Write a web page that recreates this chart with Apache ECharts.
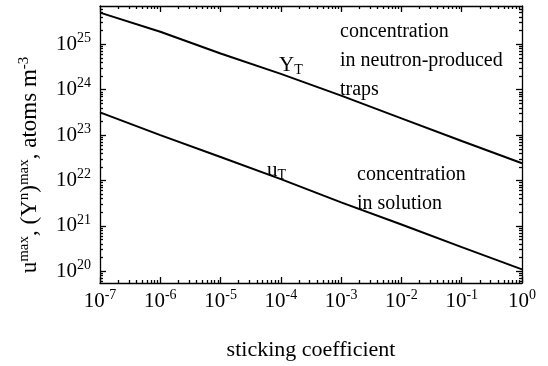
<!DOCTYPE html>
<html>
<head><meta charset="utf-8"></head>
<script type="text/javascript" src="https://cdn.jsdelivr.net/npm/echarts@6/dist/echarts.min.js"></script>
<body style="margin:0;background:#fff">
<div id="main" style="width:548px;height:366px"></div>
<script type="text/javascript">
// sticking coefficient (x) and the two maximum concentrations
var stick = [1e-7, 1e-6, 1e-5, 1e-4, 1e-3, 1e-2, 1e-1, 1]
var trapY = [5.0e25, 1.9e25, 6.3e24, 2.24e24, 7.4e23, 2.34e23, 7.4e22, 2.4e22]   // Y_T
var solU = [3.16e23, 1.0e23, 3.3e22, 1.07e22, 3.3e21, 1.07e21, 3.4e20, 1.1e20]   // u_T

var xMajor = [1e-7, 1e-6, 1e-5, 1e-4, 1e-3, 1e-2, 1e-1, 1]
var yMajor = [1e20, 1e21, 1e22, 1e23, 1e24, 1e25]
var xMin = 1e-7, xMax = 1
var yMin = 5.5e19, yMax = 7.0e25

// minor ticks at 2..9 of each decade
function minors(p0, p1) {
    var out = []
    for (var p = p0; p <= p1; p++) {
        for (var k = 2; k <= 9; k++) out.push(k * Math.pow(10, p))
    }
    return out
}
var xMinor = minors(-7, -1)
var yMinor = minors(19, 25).filter(function (v) { return v >= yMin && v <= yMax })

var FONT = 'Liberation Serif'
var rich = {
    b: {fontFamily: FONT, fontSize: 21, color: '#000'},
    s: {fontFamily: FONT, fontSize: 14, color: '#000', padding: [0, 0, 12, 0]}
}
function powLabel(v) {
    return '{b|10}{s|' + Math.round(Math.log10(v)) + '}'
}
var line = {color: '#000', width: 1.3}

function logAxis(pos, isX, major, withLabel, ticks, len) {
    var ax = {
        type: 'log',
        position: pos,
        min: isX ? xMin : yMin,
        max: isX ? xMax : yMax,
        axisLine: {show: major, lineStyle: line},
        axisTick: {show: true, inside: true, length: len, customValues: ticks, lineStyle: line},
        axisLabel: {show: withLabel},
        splitLine: {show: false},
        minorTick: {show: false}
    }
    if (withLabel) {
        ax.axisLabel = {show: true, customValues: ticks, formatter: powLabel, rich: rich,
            margin: isX ? 5 : 9}
    }
    return ax
}

var xAxes = [
    logAxis('bottom', true, true, true, xMajor, 6),
    logAxis('top', true, true, false, xMajor, 6),
    logAxis('top', true, false, false, xMinor, 3),
    logAxis('bottom', true, false, false, xMinor, 3)
]
xAxes[0].name = 'sticking coefficient'
xAxes[0].nameLocation = 'middle'
xAxes[0].nameGap = 56
xAxes[0].nameTextStyle = {fontFamily: FONT, fontSize: 22, color: '#000'}

var yAxes = [
    logAxis('left', false, true, true, yMajor, 6),
    logAxis('right', false, true, false, yMajor, 6),
    logAxis('right', false, false, false, yMinor, 3),
    logAxis('left', false, false, false, yMinor, 3)
]

var txt = {fontFamily: FONT, fontSize: 20, fill: '#000'}
function note(x, y, str) {
    return {type: 'text', left: x, top: y, style: Object.assign({text: str}, txt)}
}
var subRich = {
    m: {fontFamily: FONT, fontSize: 21, fill: '#000'},
    d: {fontFamily: FONT, fontSize: 14, fill: '#000', padding: [10, 0, 0, 0]}
}

var myChart = echarts.init(document.getElementById('main'))
myChart.setOption({
    animation: false,
    grid: {left: 100, right: 26, top: 6, bottom: 78},
    xAxis: xAxes,
    yAxis: yAxes,
    series: [
        {name: 'Y_T', type: 'line', xAxisIndex: 0, yAxisIndex: 0, symbol: 'none', smooth: false,
            lineStyle: {color: '#000', width: 2},
            data: stick.map(function (x, i) { return [x, trapY[i]] })},
        {name: 'u_T', type: 'line', xAxisIndex: 0, yAxisIndex: 0, symbol: 'none', smooth: false,
            lineStyle: {color: '#000', width: 2},
            data: stick.map(function (x, i) { return [x, solU[i]] })}
    ],
    graphic: [
        note(340, 22, 'concentration'),
        note(340, 51, 'in neutron-produced'),
        note(340, 80, 'traps'),
        note(357, 165, 'concentration'),
        note(357, 194, 'in solution'),
        {type: 'text', left: 279, top: 55, style: {text: '{m|Y}{d|T}', rich: subRich}},
        {type: 'text', left: 267, top: 160, style: {text: '{m|u}{d|T}', rich: subRich}},
        {type: 'text', x: 30, y: 165, rotation: Math.PI / 2, style: {
            text: '{m|u}{s|max}{m|, (Y}{s|n}{m|)}{s|max}{m|, atoms m}{s|-3}',
            align: 'center', verticalAlign: 'middle',
            rich: {
                m: {fontFamily: FONT, fontSize: 23, fill: '#000'},
                s: {fontFamily: FONT, fontSize: 15, fill: '#000', padding: [0, 0, 12, 0]}
            }}}
    ]
})
</script>
</body>
</html>
